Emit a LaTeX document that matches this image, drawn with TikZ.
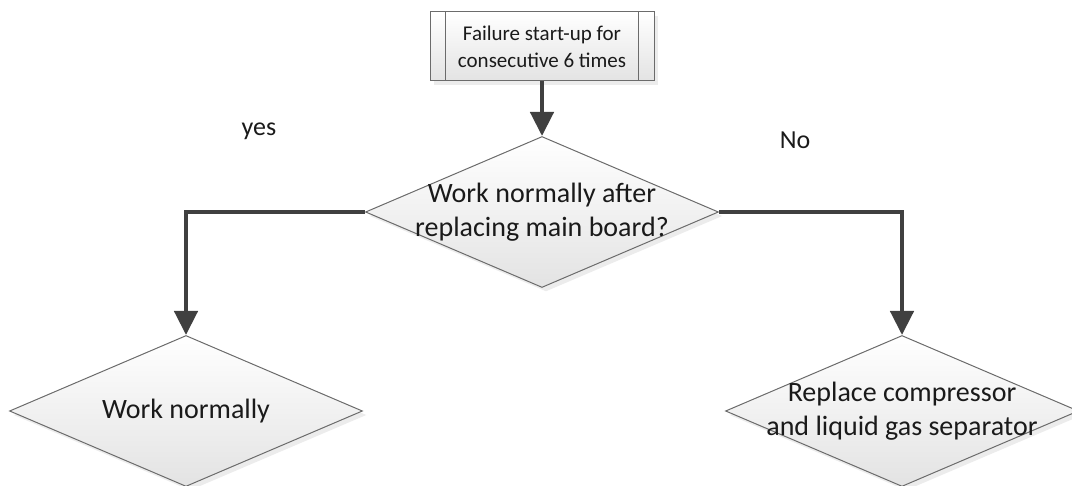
\documentclass[tikz,border=0pt]{standalone}
\usepackage{fontspec}
\setmainfont{Carlito}
\usetikzlibrary{shapes.geometric, arrows.meta, shadows}

\definecolor{edge}{HTML}{6B6B6B}
\definecolor{flowline}{HTML}{404040}
\definecolor{ink}{HTML}{1A1A1A}

\begin{document}
\begin{tikzpicture}[x=1pt, y=-1pt,
    shade/.style={top color=white, bottom color=black!11, draw=edge,
        line width=1pt, text=ink,
        drop shadow={shadow xshift=4pt, shadow yshift=-4pt, opacity=.15}},
    decision/.style={shade, diamond, aspect=2.34, minimum width=353pt,
        minimum height=151pt, inner xsep=-30pt, inner ysep=-10pt,
        align=center, font=\fontsize{28}{34}\selectfont},
    process/.style={shade, rectangle, minimum width=224pt,
        minimum height=69pt, inner sep=0, align=center,
        font=\fontsize{21}{27}\selectfont},
    flow/.style={draw=flowline, line width=4.5pt,
        -{Triangle[length=24pt, width=23pt]}},
    answer/.style={anchor=base, text=ink, font=\fontsize{26}{30}\selectfont},
]
    \clip (0, 0) rectangle (1072, 486);

    %% the failure, and the question asked about it
    \node[process] (start) at (542, 46.5)
        {Failure start-up for\\consecutive 6 times};
    \draw[edge, line width=1pt] ([xshift=16pt]start.north west)
        -- ([xshift=16pt]start.south west);
    \draw[edge, line width=1pt] ([xshift=-16pt]start.north east)
        -- ([xshift=-16pt]start.south east);
    \node[decision] (check) at (542, 212)
        {Work normally after\\replacing main board?};

    %% the two outcomes
    \node[decision] (normal) at (186, 411) {Work normally};
    \node[decision] (replace) at (902, 411)
        {Replace compressor\\and liquid gas separator};

    \draw[flow] (start) -- (check);
    \draw[flow] (check.west) -| (normal.north);
    \draw[flow] (check.east) -| (replace.north);

    \node[answer] (yes) at (259, 136) {yes};
    \node[answer] (no) at (795, 149) {No};
\end{tikzpicture}
\end{document}
